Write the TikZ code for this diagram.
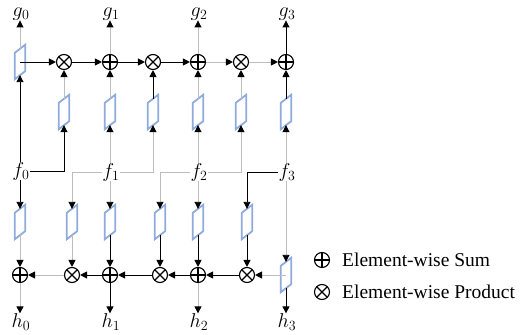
\RequirePackage{fix-cm}
\documentclass[tikz,border=0pt]{standalone}
\usepackage{fontspec}
\setmainfont{Liberation Serif}
\usetikzlibrary{arrows.meta,calc}
\definecolor{pblue}{HTML}{8FAADC}
\definecolor{lgray}{HTML}{BDBDBD}
\newcommand{\paral}[1]{\draw[paraline] ([yshift=-4pt]#1.south west) -- ([yshift=-4pt]#1.north west) -- ([yshift=4pt]#1.north east) -- ([yshift=4pt]#1.south east) -- cycle;}
\tikzset{
 opsum/.style={circle,draw,line width=1.1pt,minimum size=15pt,inner sep=0pt,
   path picture={\draw[line width=1.1pt] (path picture bounding box.north) -- (path picture bounding box.south) (path picture bounding box.west) -- (path picture bounding box.east);}},
 opprod/.style={circle,draw,line width=1.1pt,minimum size=15pt,inner sep=0pt,
   path picture={\draw[line width=1.1pt] (path picture bounding box.north west) -- (path picture bounding box.south east) (path picture bounding box.north east) -- (path picture bounding box.south west);}},
 parabox/.style={rectangle,inner sep=0pt,minimum width=10pt,minimum height=26pt},
 paraline/.style={draw=pblue,line width=1.8pt,line join=miter},
 lab/.style={inner sep=0pt,font=\fontsize{20}{24}\selectfont},
 blk/.style={draw=black,line width=0.9pt,-{Triangle[length=7pt,width=7pt,color=black]}},
 gry/.style={draw=lgray,line width=0.9pt,-{Triangle[length=7pt,width=7pt,color=black]}},
 legendtext/.style={anchor=west,inner sep=0pt,font=\fontsize{19.5}{23}\selectfont}
}
\begin{document}
\begin{tikzpicture}[x=1pt,y=-1pt]
\useasboundingbox (0,0) rectangle (529,334);
% labels
\node[lab] (g0) at (21,14) {$g_0$};
\node[lab] (g1) at (111,14) {$g_1$};
\node[lab] (g2) at (199,14) {$g_2$};
\node[lab] (g3) at (287,14) {$g_3$};
\node[lab] (f0) at (21,171) {$f_0$};
\node[lab] (f1) at (111,172) {$f_1$};
\node[lab] (f2) at (199,172) {$f_2$};
\node[lab] (f3) at (287,172) {$f_3$};
\node[lab] (h0) at (21,322) {$h_0$};
\node[lab] (h1) at (111,322) {$h_1$};
\node[lab] (h2) at (199,322) {$h_2$};
\node[lab] (h3) at (287,322) {$h_3$};
% top row
\node[parabox] (P0) at (20,62) {};
\node[opprod] (c1) at (64,62) {};
\node[opsum]  (c2) at (110,62) {};
\node[opprod] (c3) at (153,62) {};
\node[opsum]  (c4) at (198,62) {};
\node[opprod] (c5) at (241,62) {};
\node[opsum]  (c6) at (286,62) {};
\node[parabox] (pt1) at (64,112) {};
\node[parabox] (pt2) at (110,112) {};
\node[parabox] (pt3) at (153,112) {};
\node[parabox] (pt4) at (198,112) {};
\node[parabox] (pt5) at (241,112) {};
\node[parabox] (pt6) at (286,112) {};
% bottom
\node[parabox] (pb0) at (20,222) {};
\node[parabox] (pb1) at (72,222) {};
\node[parabox] (pb2) at (110,222) {};
\node[parabox] (pb3) at (160,222) {};
\node[parabox] (pb4) at (198,222) {};
\node[parabox] (pb5) at (247,222) {};
\node[opsum]  (b0) at (20,275) {};
\node[opprod] (b1) at (72,275) {};
\node[opsum]  (b2) at (110,275) {};
\node[opprod] (b3) at (160,275) {};
\node[opsum]  (b4) at (198,275) {};
\node[opprod] (b5) at (247,275) {};
\node[parabox] (P7) at (286,275) {};
% parallelograms
\foreach \n in {P0,pt1,pt2,pt3,pt4,pt5,pt6,pb0,pb1,pb2,pb3,pb4,pb5,P7}{\paral{\n}}
% top connectors
\draw[gry] (P0.north) -- (P0.north |- g0.south);
\draw[blk] (f0.north -| P0.south) -- (P0.south);
\draw[blk] (P0.center) -- (c1.west);
\draw[blk] (c1) -- (c2);
\draw[blk] (c2) -- (c3);
\draw[blk] (c3) -- (c4);
\draw[gry] (c4) -- (c5);
\draw[gry] (c5) -- (c6);
\draw[gry] (c2.north) -- (c2.north |- g1.south);
\draw[gry] (c4.north) -- (c4.north |- g2.south);
\draw[blk] (c6.north) -- (c6.north |- g3.south);
\draw[gry] (pt1.north) -- (c1.south);
\draw[gry] (pt2.north) -- (c2.south);
\draw[blk] (pt3.north) -- (c3.south);
\draw[gry] (pt4.north) -- (c4.south);
\draw[gry] (pt5.north) -- (c5.south);
\draw[blk] (pt6.north) -- (c6.south);
\draw[blk] (f0.east) -| (pt1.south);
\draw[gry] (f1.north -| pt2.south) -- (pt2.south);
\draw[gry] (f1.east) -| (pt3.south);
\draw[gry] (f2.north -| pt4.south) -- (pt4.south);
\draw[gry] (f2.east) -| (pt5.south);
\draw[gry] (f3.north -| pt6.south) -- (pt6.south);
% bottom connectors
\draw[blk] (f0.south -| pb0.north) -- (pb0.north);
\draw[gry] (f1.west) -| (pb1.north);
\draw[gry] (f1.south -| pb2.north) -- (pb2.north);
\draw[gry] (f2.west) -| (pb3.north);
\draw[gry] (f2.south -| pb4.north) -- (pb4.north);
\draw[blk] (f3.west) -| (pb5.north);
\draw[gry] (f3.south -| P7.north) -- (P7.north);
\draw[gry] (pb0.south) -- (b0.north);
\draw[gry] (pb1.south) -- (b1.north);
\draw[blk] (pb2.south) -- (b2.north);
\draw[blk] (pb3.south) -- (b3.north);
\draw[blk] (pb4.south) -- (b4.north);
\draw[blk] (pb5.south) -- (b5.north);
\draw[gry] (b1) -- (b0);
\draw[blk] (b2) -- (b1);
\draw[blk] (b3) -- (b2);
\draw[blk] (b4) -- (b3);
\draw[blk] (b5) -- (b4);
\draw[gry] (P7.center) -- (b5.east);
\draw[gry] (b0.south) -- (b0.south |- h0.north);
\draw[blk] (b2.south) -- (b2.south |- h1.north);
\draw[gry] (b4.south) -- (b4.south |- h2.north);
\draw[blk] (P7.south) -- (P7.south |- h3.north);
% legend
\node[opsum] (ls) at (322,260) {};
\node[opprod] (lp) at (322,292) {};
\node[legendtext] (lst) at (342,260) {Element-wise Sum};
\node[legendtext] (lpt) at (342,292) {Element-wise Product};
\end{tikzpicture}
\end{document}
